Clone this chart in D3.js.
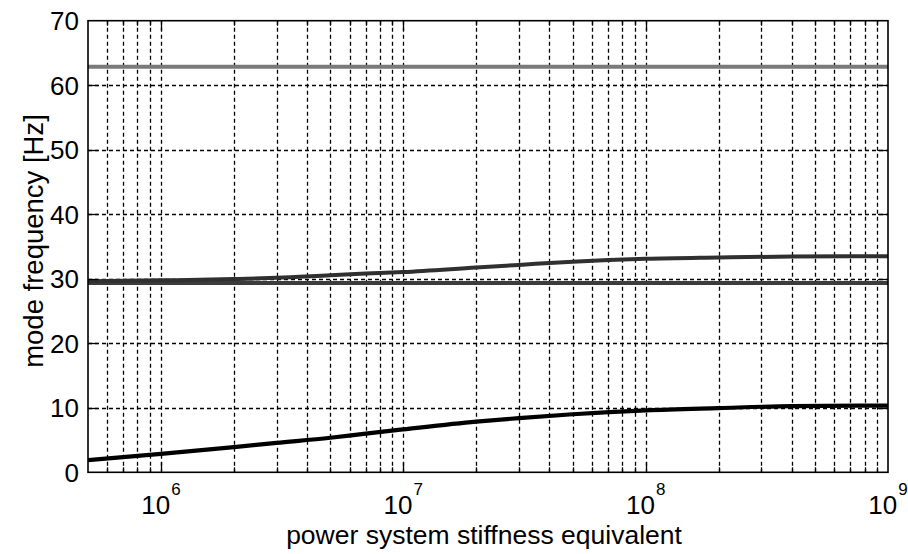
<!DOCTYPE html>
<html>
<head>
<meta charset="utf-8">
<script src="https://cdn.jsdelivr.net/npm/d3@7"></script>
<style>
  html, body { margin: 0; padding: 0; background: #fff; }
  svg { display: block; }
  text { font-family: "Liberation Sans", Arial, Helvetica, sans-serif; fill: #000; }
</style>
</head>
<body>
<svg id="chart" width="908" height="554"></svg>
<script>
// ---- data ----
const xDomain = [5e5, 1e9];
const yDomain = [0, 70];
const xMajorTicks = [1e6, 1e7, 1e8, 1e9];
const xTickExponents = ["6", "7", "8", "9"];
const yTicks = [0, 10, 20, 30, 40, 50, 60, 70];

const stiffness = [5e5, 1e6, 2e6, 3e6, 5e6, 7e6, 1e7, 2e7, 3e7, 5e7, 1e8, 2e8, 4e8, 1e9];
const modeHigh   = [62.85, 62.85, 62.85, 62.85, 62.85, 62.85, 62.85, 62.85, 62.85, 62.85, 62.85, 62.85, 62.85, 62.85];
const modeRising = [29.6, 29.75, 29.95, 30.15, 30.55, 30.8, 31.05, 31.75, 32.15, 32.65, 33.1, 33.3, 33.45, 33.5];
const modeFlat   = [29.35, 29.35, 29.35, 29.35, 29.35, 29.35, 29.35, 29.35, 29.35, 29.35, 29.35, 29.35, 29.35, 29.35];
const modeLow    = [1.9, 2.85, 3.9, 4.55, 5.35, 6.0, 6.65, 7.85, 8.4, 9.0, 9.6, 9.95, 10.25, 10.35];

const xLabel = "power system stiffness equivalent";
const yLabel = "mode frequency [Hz]";

// ---- layout ----
const W = 908, H = 554;
const plot = { left: 88, right: 888, top: 20.7, bottom: 472.3 };

const svg = d3.select("#chart");
svg.append("rect").attr("width", W).attr("height", H).attr("fill", "#fff");

const x = d3.scaleLog().domain(xDomain).range([plot.left, plot.right]);
const y = d3.scaleLinear().domain(yDomain).range([plot.bottom, plot.top]);

// minor tick values (1..9 x 10^k inside domain)
const xMinor = [];
for (let e = 5; e <= 8; e++) {
  for (let m = 1; m <= 9; m++) {
    const v = m * Math.pow(10, e);
    if (v >= xDomain[0] && v <= xDomain[1]) xMinor.push(v);
  }
}
xMinor.push(1e9);

const dash = "4,3";
const grid = svg.append("g");
grid.selectAll("line.vg").data(xMinor.filter(v => v > xDomain[0] && v < xDomain[1]))
  .join("line")
  .attr("x1", d => Math.round(x(d)) + 0.5).attr("x2", d => Math.round(x(d)) + 0.5)
  .attr("y1", plot.top).attr("y2", plot.bottom)
  .attr("stroke", "#000").attr("stroke-width", 1.3).attr("stroke-dasharray", dash);
grid.selectAll("line.hg").data(yTicks.filter(v => v > yDomain[0] && v < yDomain[1]))
  .join("line")
  .attr("x1", plot.left).attr("x2", plot.right)
  .attr("y1", d => Math.round(y(d)) + 0.5).attr("y2", d => Math.round(y(d)) + 0.5)
  .attr("stroke", "#000").attr("stroke-width", 1.3).attr("stroke-dasharray", dash);

// ---- data lines ----
svg.append("clipPath").attr("id", "clip").append("rect")
  .attr("x", plot.left).attr("y", plot.top)
  .attr("width", plot.right - plot.left).attr("height", plot.bottom - plot.top);

const line = d3.line().x(d => x(d[0])).y(d => y(d[1])).curve(d3.curveMonotoneX);
const series = [
  { vals: modeHigh,   color: "#7a7a7a", w: 4 },
  { vals: modeFlat,   color: "#3c3c3c", w: 4 },
  { vals: modeRising, color: "#303030", w: 4 },
  { vals: modeLow,    color: "#000000", w: 4.2 }
];
const lg = svg.append("g").attr("clip-path", "url(#clip)");
series.forEach(s => {
  lg.append("path")
    .datum(stiffness.map((v, i) => [v, s.vals[i]]))
    .attr("d", line)
    .attr("fill", "none")
    .attr("stroke", s.color)
    .attr("stroke-width", s.w)
    .attr("stroke-linejoin", "round");
});

// ---- axes box and inward ticks ----
const axes = svg.append("g");
axes.append("rect")
  .attr("x", plot.left).attr("y", plot.top)
  .attr("width", plot.right - plot.left).attr("height", plot.bottom - plot.top)
  .attr("fill", "none").attr("stroke", "#000").attr("stroke-width", 1.6);

const majorLen = 10, minorLen = 5;
const isMajor = v => xMajorTicks.some(t => Math.abs(t - v) / t < 1e-9);
const xt = xMinor.filter(v => v > xDomain[0] && v < xDomain[1]);
[plot.bottom, plot.top].forEach((yy, k) => {
  const dir = k === 0 ? -1 : 1;
  axes.selectAll(null).data(xt).join("line")
    .attr("x1", d => Math.round(x(d)) + 0.5).attr("x2", d => Math.round(x(d)) + 0.5)
    .attr("y1", yy).attr("y2", d => yy + dir * (isMajor(d) ? majorLen : minorLen))
    .attr("stroke", "#000").attr("stroke-width", 1.3);
});
const yt = yTicks.filter(v => v > yDomain[0] && v < yDomain[1]);
[plot.left, plot.right].forEach((xx, k) => {
  const dir = k === 0 ? 1 : -1;
  axes.selectAll(null).data(yt).join("line")
    .attr("x1", xx).attr("x2", xx + dir * majorLen)
    .attr("y1", d => Math.round(y(d)) + 0.5).attr("y2", d => Math.round(y(d)) + 0.5)
    .attr("stroke", "#000").attr("stroke-width", 1.3);
});

// ---- tick labels ----
svg.append("g").selectAll("text").data(yTicks).join("text")
  .attr("x", plot.left - 9)
  .attr("y", d => y(d))
  .attr("dy", "0.36em")
  .attr("text-anchor", "end")
  .attr("font-size", 26)
  .text(d => d);

const xl = svg.append("g").selectAll("text").data(xMajorTicks).join("text")
  .attr("x", d => x(d))
  .attr("y", 514)
  .attr("text-anchor", "middle")
  .attr("font-size", 26);
xl.append("tspan").text("10");
xl.append("tspan").attr("font-size", 17).attr("dy", -19).attr("dx", 1)
  .text((d, i) => xTickExponents[i]);

// ---- axis titles ----
svg.append("text")
  .attr("x", (plot.left + plot.right) / 2 - 4)
  .attr("y", 544)
  .attr("text-anchor", "middle")
  .attr("font-size", 26.5)
  .text(xLabel);

svg.append("text")
  .attr("transform", "translate(43,241) rotate(-90)")
  .attr("text-anchor", "middle")
  .attr("font-size", 27.5)
  .text(yLabel);
</script>
</body>
</html>
